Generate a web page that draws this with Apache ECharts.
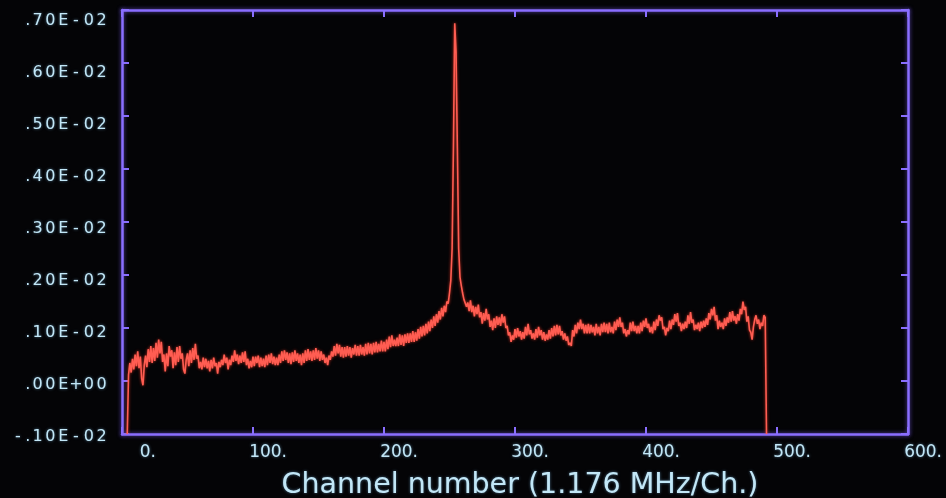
<!DOCTYPE html>
<html><head><meta charset="utf-8">
<script src="https://cdn.jsdelivr.net/npm/echarts@6/dist/echarts.min.js"></script>
<style>html,body{margin:0;padding:0;background:#040406;}#c{width:946px;height:498px;}</style>
</head><body><div id="c"></div>
<script>
// Spectrum: one value per channel, starting at channel 4. Values in units of 1E-03 (= .10E-02)
const firstChannel = 4;
const values = [
  -1.0, 0.12, 0.34, 0.16, 0.42, 0.22,
  0.50, 0.28, 0.56, 0.24, 0.46, 0.05, -0.08, 0.30, 0.48, 0.26,
  0.60, 0.36, 0.66, 0.34, 0.62, 0.38, 0.72, 0.44, 0.78, 0.52,
  0.74, 0.36, 0.50, 0.18, 0.52, 0.28, 0.66, 0.46, 0.58, 0.24,
  0.54, 0.30, 0.64, 0.36, 0.66, 0.42, 0.52, 0.22, 0.14, 0.40,
  0.52, 0.28, 0.58, 0.34, 0.62, 0.40, 0.70, 0.42, 0.48, 0.24,
  0.36, 0.22, 0.44, 0.26, 0.42, 0.24, 0.38, 0.18, 0.40, 0.24,
  0.44, 0.28, 0.34, 0.14, 0.36, 0.26, 0.40, 0.30, 0.50, 0.34,
  0.44, 0.22, 0.40, 0.30, 0.48, 0.36, 0.58, 0.38, 0.50, 0.32,
  0.48, 0.34, 0.54, 0.36, 0.56, 0.30, 0.42, 0.24, 0.38, 0.26,
  0.46, 0.28, 0.46, 0.34, 0.48, 0.26, 0.44, 0.28, 0.42, 0.26,
  0.48, 0.30, 0.50, 0.34, 0.52, 0.32, 0.46, 0.30, 0.44, 0.30,
  0.50, 0.34, 0.56, 0.38, 0.58, 0.40, 0.54, 0.34, 0.52, 0.32,
  0.54, 0.36, 0.58, 0.38, 0.52, 0.34, 0.50, 0.30, 0.52, 0.34,
  0.58, 0.38, 0.60, 0.40, 0.56, 0.38, 0.58, 0.40, 0.62, 0.42,
  0.58, 0.38, 0.56, 0.40, 0.50, 0.34, 0.44, 0.30, 0.48, 0.40,
  0.56, 0.46, 0.66, 0.48, 0.70, 0.52, 0.68, 0.46, 0.64, 0.44,
  0.64, 0.46, 0.66, 0.48, 0.64, 0.44, 0.62, 0.50, 0.68, 0.48,
  0.66, 0.48, 0.68, 0.50, 0.64, 0.48, 0.70, 0.50, 0.72, 0.52,
  0.70, 0.50, 0.72, 0.54, 0.74, 0.54, 0.70, 0.56, 0.76, 0.56,
  0.74, 0.56, 0.78, 0.60, 0.84, 0.64, 0.86, 0.66, 0.78, 0.66,
  0.82, 0.66, 0.88, 0.68, 0.86, 0.66, 0.88, 0.72, 0.90, 0.72,
  0.90, 0.74, 0.94, 0.74, 0.92, 0.76, 0.98, 0.80, 1.02, 0.84,
  1.04, 0.86, 1.08, 0.90, 1.12, 0.94, 1.16, 1.00, 1.22, 1.04,
  1.26, 1.10, 1.32, 1.16, 1.38, 1.22, 1.42, 1.30, 1.50, 1.46,
  1.66, 1.90, 2.50, 4.40, 6.75, 6.20, 4.40, 2.50, 1.96, 1.80,
  1.66, 1.54, 1.56, 1.40, 1.48, 1.32, 1.52, 1.30, 1.42, 1.22,
  1.40, 1.26, 1.44, 1.20, 1.30, 1.08, 1.28, 1.14, 1.36, 1.16,
  1.26, 1.02, 1.14, 0.96, 1.18, 1.00, 1.22, 1.06, 1.20, 1.04,
  1.26, 1.10, 1.22, 1.00, 1.04, 0.86, 0.92, 0.74, 0.86, 0.78,
  0.98, 0.82, 1.00, 0.84, 0.94, 0.78, 0.92, 0.80, 1.02, 0.86,
  1.08, 0.88, 0.96, 0.80, 0.90, 0.78, 0.98, 0.82, 1.02, 0.86,
  0.96, 0.78, 0.92, 0.76, 0.88, 0.78, 0.96, 0.80, 1.00, 0.84,
  1.04, 0.86, 1.06, 0.88, 1.04, 0.86, 0.94, 0.78, 0.90, 0.76,
  0.84, 0.68, 0.72, 0.66, 0.96, 0.84, 1.06, 0.90, 1.10, 0.98,
  1.16, 0.98, 1.08, 0.90, 1.06, 0.90, 1.08, 0.90, 1.06, 0.92,
  1.02, 0.86, 1.08, 0.90, 1.02, 0.86, 1.08, 0.92, 1.10, 0.92,
  1.08, 0.90, 1.10, 0.92, 1.02, 0.90, 1.12, 0.96, 1.16, 1.02,
  1.20, 1.02, 1.10, 0.90, 0.98, 0.84, 0.96, 0.88, 1.10, 0.94,
  1.12, 0.94, 1.04, 0.90, 1.04, 0.90, 1.10, 0.94, 1.14, 1.02,
  1.18, 1.00, 1.08, 0.92, 1.02, 0.90, 1.12, 0.96, 1.16, 1.04,
  1.24, 1.14, 1.20, 0.98, 1.02, 0.86, 1.00, 0.94, 1.14, 0.98,
  1.16, 1.06, 1.26, 1.12, 1.28, 1.04, 1.10, 0.94, 1.08, 0.98,
  1.12, 1.00, 1.24, 1.08, 1.30, 1.10, 1.16, 0.96, 1.06, 0.98,
  1.10, 0.94, 1.12, 1.00, 1.14, 1.02, 1.18, 1.06, 1.28, 1.16,
  1.36, 1.24, 1.40, 1.14, 1.24, 0.98, 1.14, 1.02, 1.10, 0.98,
  1.18, 1.04, 1.20, 1.10, 1.30, 1.12, 1.32, 1.14, 1.22, 1.08,
  1.26, 1.14, 1.36, 1.26, 1.50, 1.34, 1.40, 1.12, 1.22, 0.96,
  0.92, 0.78, 1.02, 1.16, 1.24, 1.08, 1.16, 0.98, 1.10, 1.04,
  1.24, 1.20, -1.0
];
const xTickValues = [0, 100, 200, 300, 400, 500, 600];
const xTickLabels = ['0.', '100.', '200.', '300.', '400.', '500.', '600.'];
const yTickValues = [-1, 0, 1, 2, 3, 4, 5, 6, 7];
const yTickLabels = ['-.10E-02', '.00E+00', '.10E-02', '.20E-02', '.30E-02', '.40E-02', '.50E-02', '.60E-02', '.70E-02'];
const xTitle = 'Channel number (1.176 MHz/Ch.)';

const seriesData = values.map((v, i) => [firstChannel + i, v]);

const FRAME = '#8a6eff';
const TEXT = '#c2e7f7';
const FONT = '"DejaVu Sans", sans-serif';

function cells(s) {
  return s.split('').map(ch => ch === '.' ? '{p|.}' : '{d|' + ch + '}').join('');
}
const cellStyle = { color: TEXT, fontFamily: FONT, fontSize: 16, align: 'center',
  textShadowColor: 'rgba(140,210,255,0.55)', textShadowBlur: 3 };

const frameAxis = {
  axisLine: { show: true, onZero: false, lineStyle: { color: FRAME, width: 2.5, shadowColor: 'rgba(130,100,255,0.7)', shadowBlur: 4 } },
  axisTick: { show: true, inside: true, length: 7, lineStyle: { color: FRAME, width: 2 } },
  splitLine: { show: false },
  axisLabel: { show: false }
};

const chart = echarts.init(document.getElementById('c'), null, { renderer: 'canvas' });
chart.setOption({
  animation: false,
  backgroundColor: '#040406',
  grid: { left: 122, right: 38, top: 10, bottom: 64, containLabel: false, outerBoundsMode: 'none' },
  xAxis: [
    Object.assign({}, frameAxis, {
      type: 'value', min: 0, max: 600, interval: 100, position: 'bottom',
      axisLabel: {
        show: true, align: 'left', margin: 10,
        formatter: v => {
          const k = xTickValues.indexOf(v);
          return k < 0 ? '' : '{r|' + xTickLabels[k] + '}';
        },
        rich: { r: { width: 34, align: 'right', color: TEXT, fontFamily: FONT, fontSize: 17,
          textShadowColor: 'rgba(140,210,255,0.55)', textShadowBlur: 3 } }
      },
      name: xTitle, nameLocation: 'middle', nameGap: 37,
      nameTextStyle: { color: TEXT, fontFamily: FONT, fontSize: 28.5, padding: [0, 0, 0, 10],
        textShadowColor: 'rgba(140,210,255,0.5)', textShadowBlur: 3 }
    }),
    Object.assign({}, frameAxis, { type: 'value', min: 0, max: 600, interval: 100, position: 'top' })
  ],
  yAxis: [
    Object.assign({}, frameAxis, { type: 'value', min: -1, max: 7, interval: 1, position: 'left' }),
    Object.assign({}, frameAxis, { type: 'value', min: -1, max: 7, interval: 1, position: 'right' }),
    {
      type: 'value', min: -1, max: 7.144, interval: 1, position: 'left',
      axisLine: { show: false, onZero: false }, axisTick: { show: false }, splitLine: { show: false },
      axisLabel: {
        show: true, align: 'right', margin: 14, showMaxLabel: false, padding: [6, 0, 0, 0],
        formatter: v => {
          const k = yTickValues.indexOf(Math.round(v * 1000) / 1000);
          return k < 0 ? '' : cells(yTickLabels[k]);
        },
        rich: { d: Object.assign({ width: 12.8 }, cellStyle), p: Object.assign({ width: 7 }, cellStyle) }
      }
    }
  ],
  series: [{
    type: 'line', xAxisIndex: 0, yAxisIndex: 0, data: seriesData,
    showSymbol: false, symbol: 'none', smooth: false,
    lineStyle: { color: '#ff5d52', width: 1.6, shadowColor: 'rgba(255,60,40,0.8)', shadowBlur: 3 }
  }]
});
</script>
</body></html>
